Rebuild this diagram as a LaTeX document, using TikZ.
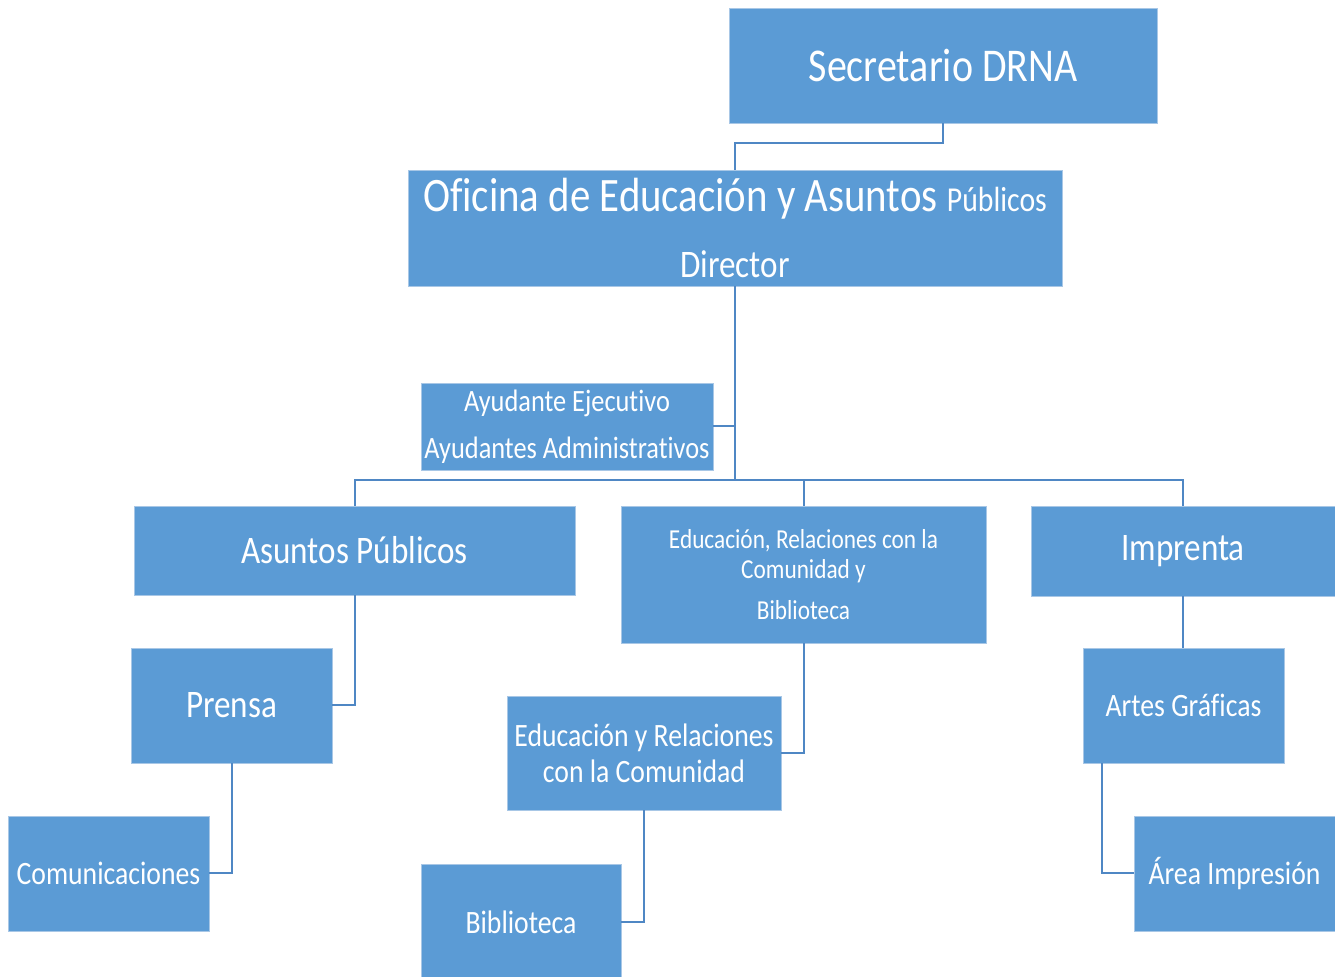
\documentclass[tikz,border=0pt]{standalone}
\usepackage{fontspec}
\setmainfont{Carlito}[FakeStretch=0.85, Ligatures={NoCommon}]
\usetikzlibrary{calc}
\definecolor{boxfill}{HTML}{5B9BD5}
\definecolor{boxedge}{HTML}{A8C7E6}
\definecolor{linkc}{HTML}{4F87C4}
\newcommand{\fs}[1]{\fontsize{#1}{1.2\dimexpr#1pt\relax}\selectfont}
\tikzset{
  orgbox/.style={rectangle, fill=boxfill, draw=boxedge, line width=0.4pt,
    text=white, inner sep=0pt, align=center},
  link/.style={draw=linkc, line width=1pt}
}
\begin{document}
\begin{tikzpicture}[x=0.5pt,y=-0.5pt]
\useasboundingbox (0,0) rectangle (1335,977);
\fill[white] (0,0) rectangle (1335,977);

\node[orgbox, font=\fs{23.5}, minimum width=214pt, minimum height=57.5pt] (sec) at (943,65.5)
  {Secretario DRNA};
\node[orgbox, font=\fs{24}, minimum width=327pt, minimum height=58pt] (ofi) at (735,228)
  {Oficina de Educación y Asuntos {\fs{17.5}Públicos}\\[4.5pt]{\fs{19.5}Director}};
\node[orgbox, font=\fs{15.5}, minimum width=146pt, minimum height=43.5pt] (ayu) at (567,426.5)
  {Ayudante Ejecutivo\\[5pt]Ayudantes Administrativos};
\node[orgbox, font=\fs{19.5}, minimum width=220.5pt, minimum height=44.5pt] (asu) at (354.5,550.5)
  {Asuntos Públicos};
\node[orgbox, font=\fs{13.7}, minimum width=182.5pt, minimum height=68.5pt] (edu) at (803.5,574.5)
  {Educación, Relaciones con la\\[-1.4pt]Comunidad y\\[4pt]Biblioteca};
\node[orgbox, font=\fs{19.5}, minimum width=152pt, minimum height=45pt] (imp) at (1183,551)
  {Imprenta};
\node[orgbox, font=\fs{19.5}, minimum width=100.5pt, minimum height=57.5pt] (pre) at (231.5,705.5)
  {Prensa};
\node[orgbox, font=\fs{16.3}, minimum width=137pt, minimum height=57pt] (eyr) at (644,753)
  {Educación y Relaciones\\[-1.5pt]con la Comunidad};
\node[orgbox, font=\fs{16.3}, minimum width=100.5pt, minimum height=57.5pt] (art) at (1183.5,705.5)
  {Artes Gráficas};
\node[orgbox, font=\fs{16.3}, minimum width=100.5pt, minimum height=57.5pt] (com) at (108.5,873.5)
  {Comunicaciones};
\node[orgbox, font=\fs{16.3}, minimum width=100pt, minimum height=58pt] (bib) at (521,922)
  {Biblioteca};
\node[orgbox, font=\fs{16.3}, minimum width=100.5pt, minimum height=57.5pt] (are) at (1234.5,873.5)
  {Área Impresión};

\coordinate (bus) at (735,480);

\draw[link] (sec.south) -- ++(0,20) -| (ofi.north);
\draw[link] (ofi.south) -- (ofi.south |- bus);
\draw[link] (ayu.east) -- (ayu.east -| bus);
\draw[link] (asu.north) -- (asu.north |- bus) -| (imp.north);
\draw[link] (edu.north) -- (edu.north |- bus);
\draw[link] (asu.south) |- (pre.east);
\draw[link] (pre.south) |- (com.east);
\draw[link] (edu.south) |- (eyr.east);
\draw[link] (eyr.south) |- (bib.east);
\draw[link] (imp.south) -- (imp.south |- art.north);
\draw[link] ([xshift=9.5pt]art.south west) |- (are.west);
\end{tikzpicture}
\end{document}
